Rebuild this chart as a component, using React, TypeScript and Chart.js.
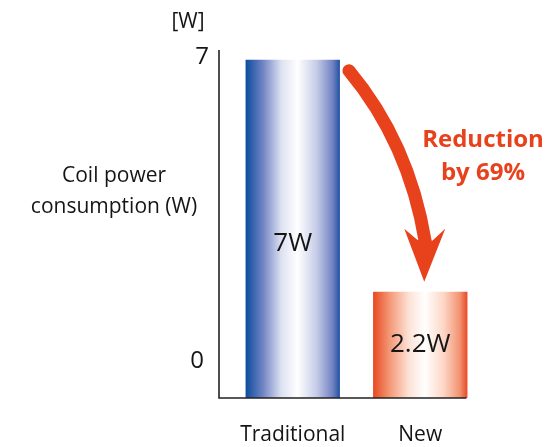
import React, { useEffect, useRef } from "react";
import { Chart, registerables } from "chart.js";

Chart.register(...registerables);

const categories = ["Traditional", "New"];
const values = [7, 2.2];
const valueLabels = ["7W", "2.2W"];
const yTickLabels = ["0", "7"];
const unitLabel = "[W]";
const axisTitle = ["Coil power", "consumption (W)"];
const annotation = ["Reduction", "by 69%"];

const FONT = "'Open Sans', 'Noto Sans', sans-serif";
const ORANGE = "#E8421C";
const TEXT = "#151515";
const BAR_PCT = 0.74;

const gradients: Record<number, [number, string][]> = {
  0: [
    [0, "#0A4C9E"],
    [0.18, "#6F82C2"],
    [0.38, "#DDE2F2"],
    [0.55, "#FFFFFF"],
    [0.75, "#C7CDE8"],
    [0.92, "#7484C2"],
    [1, "#1F52A3"],
  ],
  1: [
    [0, "#E84820"],
    [0.18, "#F49A78"],
    [0.38, "#FDE2D6"],
    [0.55, "#FFFFFF"],
    [0.75, "#FCD6C4"],
    [0.92, "#F29272"],
    [1, "#E84820"],
  ],
};

const overlayPlugin = {
  id: "overlay",
  afterDatasetsDraw(chart: any) {
    const ctx = chart.ctx as CanvasRenderingContext2D;
    const xs = chart.scales.x;
    const ys = chart.scales.y;
    const area = chart.chartArea;
    const axisX = area.left - 10;
    const meta = chart.getDatasetMeta(0);
    const lastBar = meta.data[meta.data.length - 1];
    ctx.save();

    // axes
    ctx.strokeStyle = "#222";
    ctx.lineWidth = 1.6;
    ctx.beginPath();
    ctx.moveTo(axisX, area.top);
    ctx.lineTo(axisX, area.bottom);
    ctx.lineTo(lastBar.x + lastBar.width / 2 - 1, area.bottom);
    ctx.stroke();

    // tick labels
    ctx.fillStyle = TEXT;
    ctx.textAlign = "center";
    ctx.textBaseline = "middle";
    ctx.font = `24px ${FONT}`;
    ctx.fillText(yTickLabels[1], axisX - 17, ys.getPixelForValue(7) - 3);
    ctx.fillText(yTickLabels[0], axisX - 22, area.bottom - 37);
    ctx.font = `21px ${FONT}`;
    ctx.fillText(unitLabel, axisX - 31, 22);

    // axis title
    ctx.font = `21px ${FONT}`;
    ctx.fillText(axisTitle[0], 114, 176);
    ctx.fillText(axisTitle[1], 114, 207);

    // category labels
    ctx.font = `21px ${FONT}`;
    categories.forEach((c, i) => {
      ctx.fillText(c, xs.getPixelForValue(i), area.bottom + 37);
    });

    // value labels
    ctx.font = `26px ${FONT}`;
    values.forEach((v, i) => {
      const x = xs.getPixelForValue(i);
      const y = ys.getPixelForValue(Math.min(v * 0.5, 3.2));
      ctx.fillText(valueLabels[i], x, y);
    });

    // arrow
    const b0 = meta.data[0];
    const b1 = meta.data[1];
    const sx = b0.x + b0.width / 2 + 9;
    const sy = b0.y + 11;
    const tipX = b1.x + 4;
    const tipY = b1.y - 10;
    ctx.strokeStyle = ORANGE;
    ctx.fillStyle = ORANGE;
    ctx.lineWidth = 13;
    ctx.lineCap = "round";
    ctx.beginPath();
    ctx.moveTo(sx, sy);
    ctx.quadraticCurveTo(sx + 60, sy + 72, tipX + 1, tipY - 40);
    ctx.stroke();
    ctx.lineCap = "butt";
    ctx.beginPath();
    ctx.moveTo(tipX, tipY);
    ctx.lineTo(tipX + 21, tipY - 53);
    ctx.lineTo(tipX + 8, tipY - 41);
    ctx.lineTo(tipX - 7, tipY - 42);
    ctx.lineTo(tipX - 20, tipY - 53);
    ctx.closePath();
    ctx.fill();

    // annotation
    ctx.font = `bold 24px ${FONT}`;
    ctx.fillStyle = ORANGE;
    ctx.fillText(annotation[0], 483, 140);
    ctx.fillText(annotation[1], 483, 173);

    ctx.restore();
  },
};

export default function App() {
  const ref = useRef<HTMLCanvasElement>(null);
  useEffect(() => {
    if (!ref.current) return;
    const chart = new Chart(ref.current, {
      type: "bar",
      data: {
        labels: categories,
        datasets: [
          {
            data: values,
            borderWidth: 0,
            barPercentage: BAR_PCT,
            categoryPercentage: 1,
            backgroundColor: (c: any) => {
              const ch = c.chart;
              if (!ch.chartArea) return "#888";
              const xs = ch.scales.x;
              const cx = xs.getPixelForValue(c.dataIndex);
              const half = (xs.width / categories.length) * BAR_PCT / 2;
              const g = ch.ctx.createLinearGradient(cx - half, 0, cx + half, 0);
              gradients[c.dataIndex].forEach(([o, col]) => g.addColorStop(o, col));
              return g;
            },
          },
        ],
      },
      options: {
        responsive: false,
        animation: false,
        events: [],
        layout: { padding: { left: 229, right: 62, top: 50, bottom: 49 } },
        plugins: { legend: { display: false }, tooltip: { enabled: false } },
        scales: {
          x: { display: false },
          y: { display: false, min: 0, max: 7.2 },
        },
      },
      plugins: [overlayPlugin],
    });
    return () => chart.destroy();
  }, []);
  return (
    <div style={{ position: "fixed", left: 0, top: 0, width: 546, height: 447, background: "#fff" }}>
      <canvas ref={ref} width={546} height={447} style={{ width: 546, height: 447, display: "block" }} />
    </div>
  );
}
